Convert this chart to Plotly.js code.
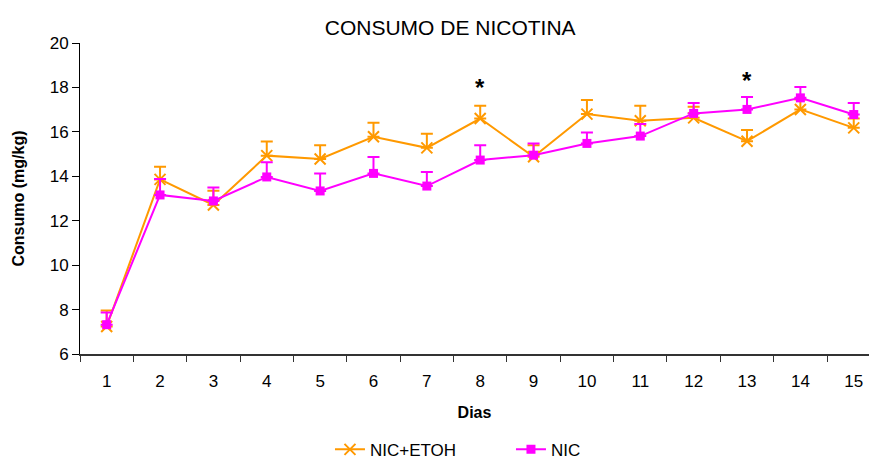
<!DOCTYPE html>
<html>
<head>
<meta charset="utf-8">
<script src="https://cdn.plot.ly/plotly-3.0.1.min.js"></script>
<style>html,body{margin:0;padding:0;background:#fff;}#chart{width:869px;height:459px;}</style>
</head>
<body>
<div id="chart"></div>
<script>
const dias = ["1","2","3","4","5","6","7","8","9","10","11","12","13","14","15"];
const nicEtoh    = [7.24, 13.86, 12.71, 14.93, 14.78, 15.78, 15.28, 16.60, 14.88, 16.80, 16.50, 16.63, 15.58, 17.01, 16.18];
const nicEtohErr = [0.72, 0.57, 0.64, 0.64, 0.62, 0.63, 0.63, 0.57, 0.52, 0.63, 0.67, 0.50, 0.50, 0.45, 0.42];
const nic        = [7.32, 13.16, 12.89, 13.97, 13.34, 14.13, 13.56, 14.73, 14.95, 15.48, 15.81, 16.83, 17.01, 17.53, 16.78];
const nicErr     = [0.55, 0.72, 0.61, 0.66, 0.78, 0.74, 0.63, 0.67, 0.53, 0.49, 0.54, 0.47, 0.56, 0.49, 0.52];
const sigDias = ["8", "13"];
const sigY    = [18.0, 18.3];
const zeros = dias.map(() => 0);

const font = "Arial, 'Liberation Sans', sans-serif";
const orange = "#FF9900";
const magenta = "#FF00FF";

const traces = [
  {
    x: dias, y: nicEtoh, name: "NIC+ETOH", type: "scatter", mode: "lines+markers",
    line: {color: orange, width: 2},
    marker: {symbol: "x-thin", size: 11, color: orange, line: {color: orange, width: 2}},
    error_y: {type: "data", array: nicEtohErr, arrayminus: zeros, symmetric: false, color: orange, thickness: 2, width: 6}
  },
  {
    x: dias, y: nic, name: "NIC", type: "scatter", mode: "lines+markers",
    line: {color: magenta, width: 2},
    marker: {symbol: "square", size: 9, color: magenta},
    error_y: {type: "data", array: nicErr, arrayminus: zeros, symmetric: false, color: magenta, thickness: 2, width: 6}
  }
];

const layout = {
  width: 869, height: 459,
  margin: {l: 80, r: 0, t: 43, b: 105},
  paper_bgcolor: "#fff", plot_bgcolor: "#fff",
  font: {family: font, size: 17, color: "#000"},
  title: {text: "CONSUMO DE NICOTINA", font: {family: font, size: 21, color: "#000"},
          x: 0.518, xanchor: "center", xref: "container", y: 0.939, yanchor: "middle", yref: "container"},
  xaxis: {
    type: "category", range: [-0.5, 14.286], tickson: "boundaries",
    ticks: "outside", ticklen: 6, tickwidth: 1, tickcolor: "#333",
    showline: true, linecolor: "#333", linewidth: 2, showgrid: false, zeroline: false,
    tickfont: {family: font, size: 17, color: "#000"}, ticklabelstandoff: 11,
    title: {text: "<b>Dias</b>", font: {family: font, size: 16, color: "#000"}, standoff: 16}
  },
  yaxis: {
    range: [6, 20], dtick: 2, tick0: 6,
    ticks: "outside", ticklen: 7, tickwidth: 1, tickcolor: "#000",
    showline: true, linecolor: "#000", linewidth: 1, showgrid: false, zeroline: false,
    tickfont: {family: font, size: 17, color: "#000"},
    title: {text: "<b>Consumo (mg/kg)</b>", font: {family: font, size: 16, color: "#000"}, standoff: 21}
  },
  showlegend: true,
  legend: {orientation: "h", x: 0.588, xanchor: "center", xref: "container",
           y: 0.02, yanchor: "middle", yref: "container",
           font: {family: font, size: 17, color: "#000"}, bgcolor: "rgba(0,0,0,0)",
           entrywidth: 136, entrywidthmode: "pixels"},
  annotations: sigDias.map((d, i) => ({
    x: dias.indexOf(d), y: sigY[i], xref: "x", yref: "y", text: "<b>*</b>", showarrow: false,
    font: {family: font, size: 24, color: "#000"}, yanchor: "middle"
  }))
};

Plotly.newPlot("chart", traces, layout, {displayModeBar: false, staticPlot: true});
</script>
</body>
</html>
